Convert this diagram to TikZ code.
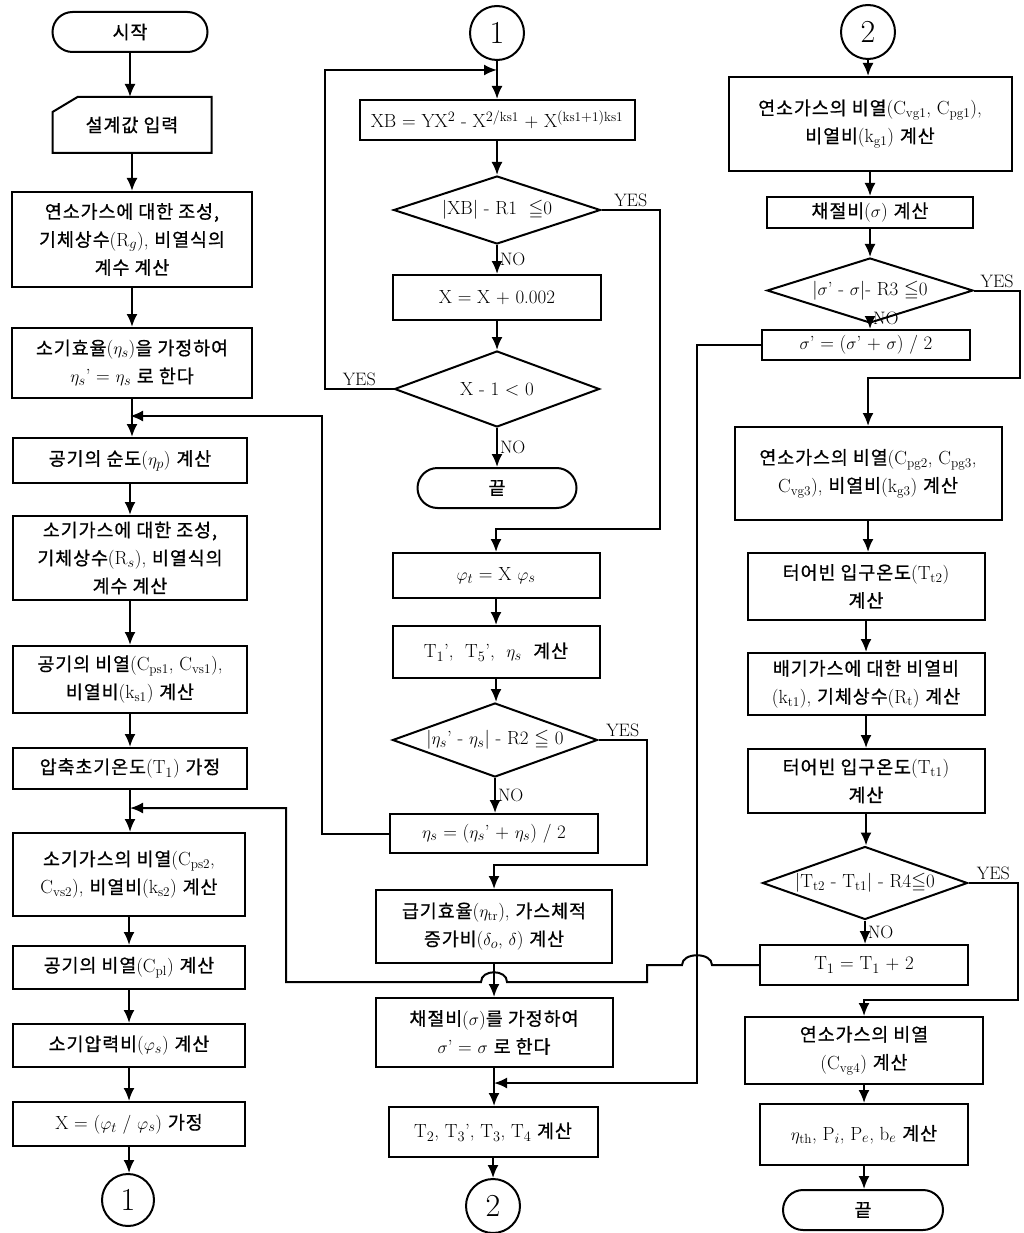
\documentclass[tikz,border=0pt]{standalone}
\usepackage{fontspec}
\usepackage{amssymb}
\usetikzlibrary{arrows.meta,shapes.geometric}
\newfontfamily\kr[Scale=0.97,FakeBold=0.8,LetterSpace=5]{Noto Sans CJK KR}
\newcommand\hg[1]{{\kr #1}}
\newcommand\sbs[1]{$_{\mathrm{#1}}$}
\tikzset{
  ln/.style={line width=2pt},
  arr/.style={ln, -{Latex[length=13pt,width=11pt]}},
  box/.style={draw, ln, rectangle, align=center, inner sep=2pt, font=\fontsize{19}{28}\selectfont},
  term/.style={box, rounded corners=20pt},
  dia/.style={draw, ln, diamond, inner sep=0pt, font=\fontsize{19}{22}\selectfont},
  conn/.style={draw, ln, circle, inner sep=0pt, minimum size=54pt, font=\fontsize{32}{32}\selectfont},
  lbl/.style={font=\fontsize{18}{20}\selectfont, inner sep=2pt},
}
\begin{document}
\begin{tikzpicture}[x=1pt,y=-1pt]
\useasboundingbox (0,0) rectangle (1023,1233);
% ---------------- left column ----------------
\node[term, minimum width=155pt, minimum height=40pt] (L0) at (130,32) {\hg{시작}};
\node[box, draw=none, minimum width=157pt, minimum height=54pt] (L1) at (132,125) {\hg{설계값 입력}};
\draw[ln] (L1.south west) -- ([yshift=-15pt]L1.north west) -- ([xshift=25pt]L1.north west) -- (L1.north east) -- (L1.south east) -- cycle;
\node[box, minimum width=240pt, minimum height=95pt] (L2) at (132,239.5) {\hg{연소가스에 대한 조성,}\\\hg{기체상수}(R$_g$), \hg{비열식의}\\\hg{계수 계산}};
\node[box, minimum width=240pt, minimum height=70pt] (L3) at (132,363) {\hg{소기효율}($\eta_s$)\hg{을 가정하여}\\$\eta_s$' = $\eta_s$ \hg{로 한다}};
\node[box, minimum width=234pt, minimum height=45pt] (L4) at (130,460.5) {\hg{공기의 순도}($\eta_p$) \hg{계산}};
\node[box, minimum width=234pt, minimum height=84pt] (L5) at (130,558) {\hg{소기가스에 대한 조성,}\\\hg{기체상수}(R$_s$), \hg{비열식의}\\\hg{계수 계산}};
\node[box, minimum width=234pt, minimum height=67pt] (L6) at (130,679.5) {\hg{공기의 비열}(C\sbs{ps1}, C\sbs{vs1}),\\\hg{비열비}(k\sbs{s1}) \hg{계산}};
\node[box, minimum width=234pt, minimum height=41pt] (L7) at (130,768.5) {\hg{압축초기온도}(T$_1$) \hg{가정}};
\node[box, minimum width=232pt, minimum height=83pt] (L8) at (129,874.5) {\hg{소기가스의 비열}(C\sbs{ps2},\\C\sbs{vs2}), \hg{비열비}(k\sbs{s2}) \hg{계산}};
\node[box, minimum width=232pt, minimum height=43pt] (L9) at (129,967.5) {\hg{공기의 비열}(C\sbs{pl}) \hg{계산}};
\node[box, minimum width=232pt, minimum height=43pt] (L10) at (129,1045.5) {\hg{소기압력비}($\varphi_s$) \hg{계산}};
\node[box, minimum width=232pt, minimum height=44pt] (L11) at (129,1124) {X = ($\varphi_t$ / $\varphi_s$) \hg{가정}};
\node[conn, minimum size=52pt] (L12) at (128,1200) {1};
\coordinate (J1) at (130,416);
\coordinate (J2) at (130,808);
% ---------------- middle column ----------------
\node[conn] (M0) at (497,33) {1};
\node[box, minimum width=275pt, minimum height=40pt] (M1) at (497,120) {XB = YX$^2$ - X$^{2/\mathrm{ks1}}$ + X$^{(\mathrm{ks1+1})\mathrm{ks1}}$};
\node[dia, minimum width=207pt, minimum height=68pt] (M2) at (497,210) {\makebox[0pt]{|XB| - R1\ \ $\leqq$0}};
\node[box, minimum width=208pt, minimum height=45pt] (M3) at (497,297.5) {X = X + 0.002};
\node[dia, minimum width=205pt, minimum height=76pt] (M4) at (497,389) {\makebox[0pt]{X - 1 < 0}};
\node[term, minimum width=159pt, minimum height=40pt] (M5) at (497,488) {\hg{끝}};
\node[box, minimum width=207pt, minimum height=45pt] (M6) at (496,575.5) {$\varphi_t$ = X $\varphi_s$};
\node[box, minimum width=207pt, minimum height=52pt] (M7) at (496,652) {T$_1$',\ \ T$_5$',\ \ $\eta_s$\ \ \hg{계산}};
\node[dia, minimum width=205pt, minimum height=74pt] (M8) at (495,740) {\makebox[0pt]{|$\eta_s$' - $\eta_s$| - R2 $\leqq$ 0}};
\node[box, minimum width=208pt, minimum height=39pt] (M9) at (494,833.5) {$\eta_s$ = ($\eta_s$' + $\eta_s$) / 2};
\node[box, minimum width=236pt, minimum height=73pt] (M10) at (494,926.5) {\hg{급기효율}($\eta_{\mathrm{tr}}$), \hg{가스체적}\\\hg{증가비}($\delta_o$, $\delta$) \hg{계산}};
\node[box, minimum width=237pt, minimum height=69pt] (M11) at (494,1032.5) {\hg{채절비}($\sigma$)\hg{를 가정하여}\\$\sigma$' = $\sigma$ \hg{로 한다}};
\node[box, minimum width=209pt, minimum height=50pt] (M12) at (493,1132) {T$_2$, T$_3$', T$_3$, T$_4$ \hg{계산}};
\node[conn] (M13) at (493,1206) {2};
\coordinate (J0) at (497,70);
\coordinate (J3) at (494,1083);
% ---------------- right column ----------------
\node[conn] (R0) at (868,32) {2};
\node[box, minimum width=283pt, minimum height=94pt] (R1) at (870,124) {\hg{연소가스의 비열}(C\sbs{vg1}, C\sbs{pg1}),\\\hg{비열비}(k\sbs{g1}) \hg{계산}};
\node[box, minimum width=206pt, minimum height=31pt] (R2) at (870,212.5) {\hg{채절비}($\sigma$) \hg{계산}};
\node[dia, minimum width=206pt, minimum height=65pt] (R3) at (870,290.5) {\makebox[0pt]{|$\sigma$' - $\sigma$|- R3 $\leqq$0}};
\node[box, minimum width=208pt, minimum height=30pt] (R4) at (866,345) {$\sigma$' = ($\sigma$' + $\sigma$) / 2};
\node[box, minimum width=267pt, minimum height=93pt] (R5) at (868,473.5) {\hg{연소가스의 비열}(C\sbs{pg2}, C\sbs{pg3},\\C\sbs{vg3}), \hg{비열비}(k\sbs{g3}) \hg{계산}};
\node[box, minimum width=237pt, minimum height=67pt] (R6) at (866,586.5) {\hg{터어빈 입구온도}(T\sbs{t2})\\\hg{계산}};
\node[box, minimum width=237pt, minimum height=62pt] (R7) at (866,684) {\hg{배기가스에 대한 비열비}\\(k\sbs{t1}), \hg{기체상수}(R\sbs{t}) \hg{계산}};
\node[box, minimum width=237pt, minimum height=64pt] (R8) at (866,781) {\hg{터어빈 입구온도}(T\sbs{t1})\\\hg{계산}};
\node[dia, minimum width=205pt, minimum height=73pt] (R9) at (865,883) {\makebox[0pt]{|T\sbs{t2} - T\sbs{t1}| - R4$\leqq$0}};
\node[box, minimum width=208pt, minimum height=40pt] (R10) at (864,965) {T$_1$ = T$_1$ + 2};
\node[box, minimum width=238pt, minimum height=67pt] (R11) at (864,1050.5) {\hg{연소가스의 비열}\\(C\sbs{vg4}) \hg{계산}};
\node[box, minimum width=208pt, minimum height=61pt] (R12) at (864,1134.5) {$\eta_{\mathrm{th}}$, P$_i$, P$_e$, b$_e$ \hg{계산}};
\node[term, minimum width=160pt, minimum height=40pt] (R13) at (863,1210) {\hg{끝}};
% ---------------- straight arrows ----------------
\foreach \a/\b in {L0/L1,L1/L2,L2/L3,L3/L4,L4/L5,L5/L6,L6/L7,L7/L8,L8/L9,L9/L10,L10/L11,L11/L12,
                   M0/M1,M1/M2,M3/M4,M6/M7,M7/M8,M10/M11,M11/M12,M12/M13,
                   R0/R1,R1/R2,R2/R3,R5/R6,R6/R7,R7/R8,R8/R9,R11/R12,R12/R13}
  \draw[arr] (\a.south) -- (\a.south |- \b.north);
\draw[arr] (M2.south) -- node[lbl,right] {NO} (M2.south |- M3.north);
\draw[arr] (M4.south) -- node[lbl,right] {NO} (M4.south |- M5.north);
\draw[arr] (M8.south) -- node[lbl,right] {NO} (M8.south |- M9.north);
\draw[arr] (R3.south) -- (R3.south |- R4.north);
\node[lbl, anchor=south west] (noR3) at ([xshift=1pt,yshift=-3pt]R3.south) {NO};
\draw[arr] (R9.south) -- node[lbl,right] {NO} (R9.south |- R10.north);
% ---------------- YES branches ----------------
\draw[arr] (M2.east) -| node[lbl,pos=0.25,above] {YES} (660,529) -| (M6.north);
\draw[arr] (M8.east) -| node[lbl,pos=0.25,above] {YES} (647,865) -| (M10.north);
\draw[arr] (R3.east) -| node[lbl,pos=0.25,above] {YES} (1020,378) -| (R5.north);
\draw[arr] (R9.east) -| node[lbl,pos=0.25,above] {YES} (1018,1000) -| (R11.north);
% ---------------- loops ----------------
\draw[arr] (M4.west) -| node[lbl,pos=0.25,above] {YES} (325,70) -- (J0);
\draw[arr] (M9.west) -| (322,416) -- (J1);
\draw[arr] (R4.west) -| (697,1083) -- (J3);
\draw[arr] (R10.west) -- (712,965) .. controls (712,952) and (682,952) .. (682,965) -- (647,965) -- (647,982)
   -- (507,982) .. controls (507,969) and (481,969) .. (481,982) -- (286,982) -- (286,808) -- (J2);
\end{tikzpicture}
\end{document}
